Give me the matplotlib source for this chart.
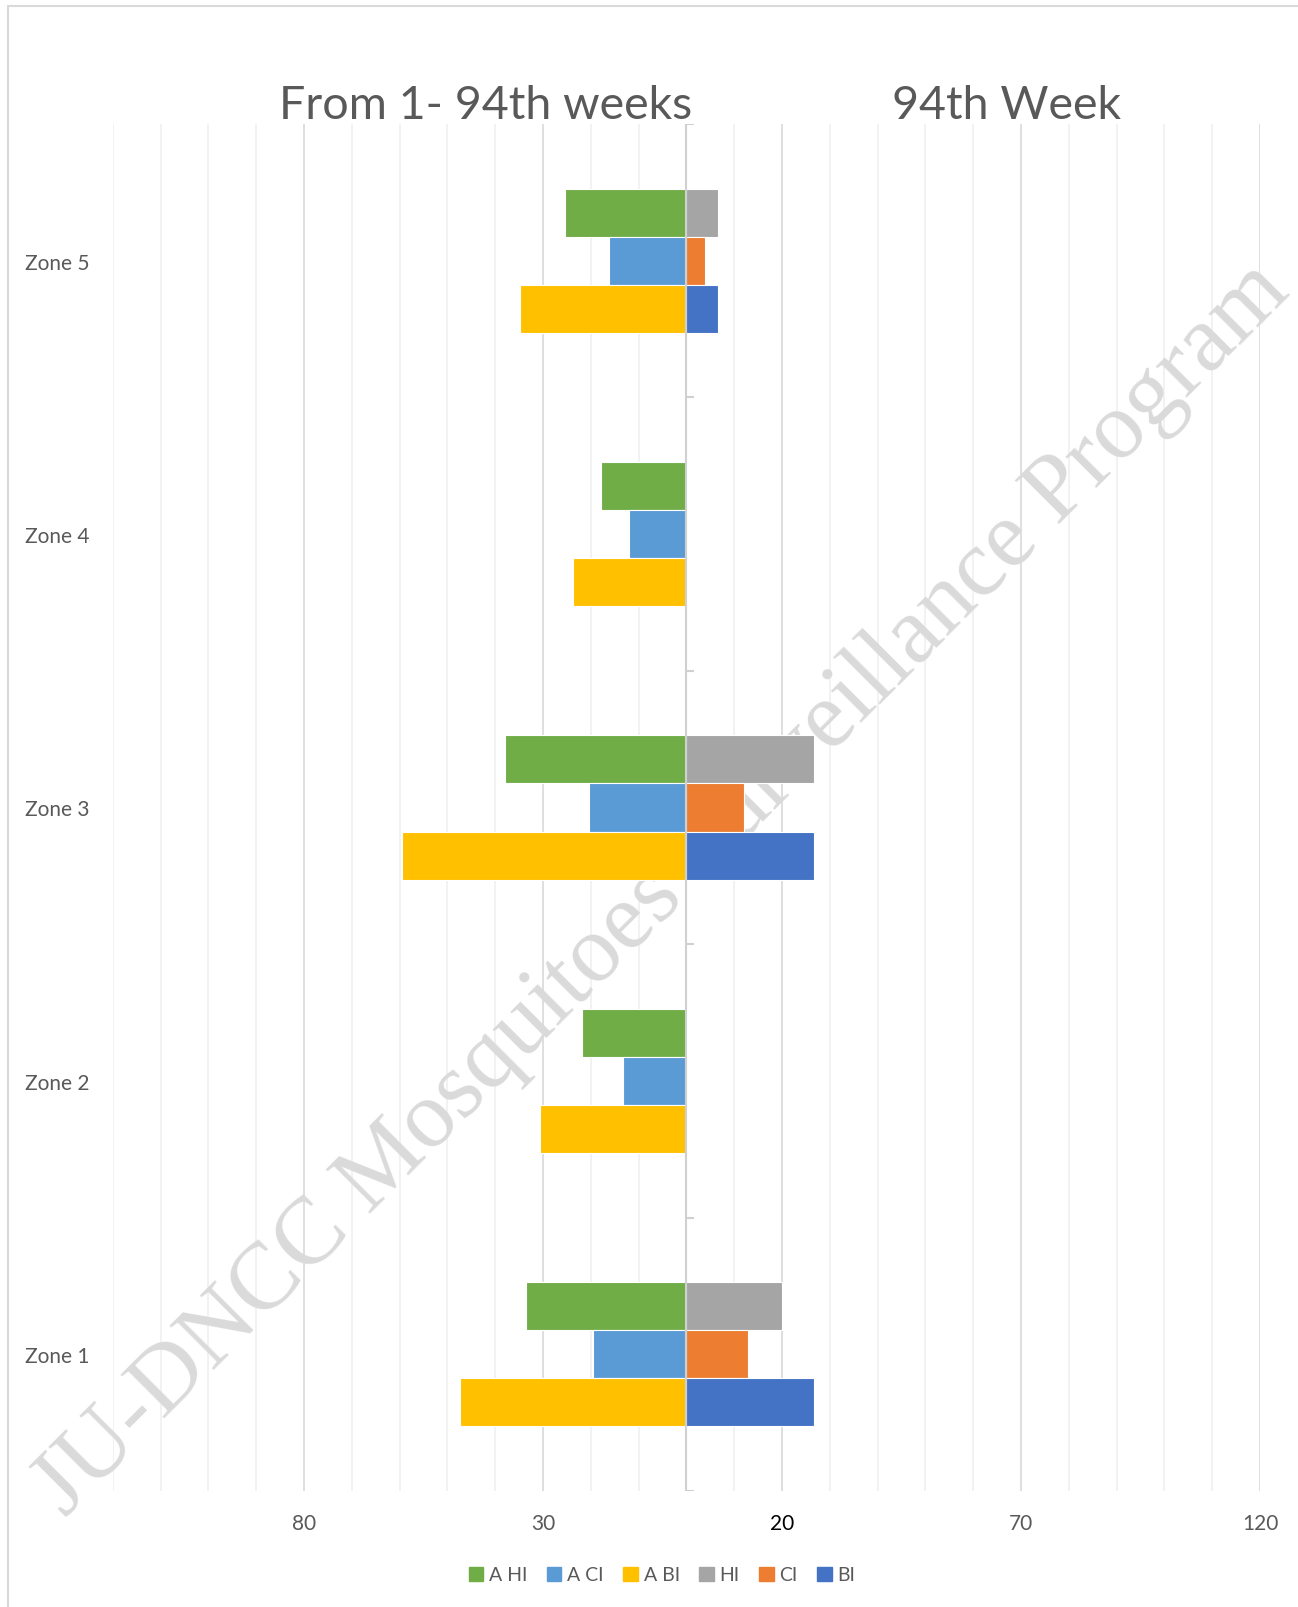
import numpy as np
import matplotlib.pyplot as plt
from matplotlib.patches import Patch, Rectangle
from matplotlib.ticker import FuncFormatter, MultipleLocator

plt.rcParams['font.family'] = ['Lato', 'DejaVu Sans']

# Data (left side = 1-94th weeks average, right side = 94th week)
zones = ['Zone 1', 'Zone 2', 'Zone 3', 'Zone 4', 'Zone 5']
a_hi = [33.5, 21.9, 38.0, 17.8, 25.3]
a_ci = [19.5, 13.3, 20.4, 12.0, 16.1]
a_bi = [47.4, 30.7, 59.4, 23.8, 34.8]
hi = [20.0, 0, 26.6, 0, 6.7]
ci = [12.9, 0, 12.0, 0, 3.9]
bi = [26.6, 0, 26.6, 0, 6.7]

col_ahi, col_aci, col_abi = '#70AD47', '#5B9BD5', '#FFC000'
col_hi, col_ci, col_bi = '#A5A5A5', '#ED7D31', '#4472C4'
text_col = '#595959'

W, H = 1298, 1608
fig = plt.figure(figsize=(W / 100, H / 100), dpi=100)
ax = fig.add_axes([112.8 / W, 116 / H, (1260 - 112.8) / W, (1492 - 125) / H])

y = np.arange(len(zones))
h = 0.176

# Left (negative) bars
ax.barh(y + h, -np.array(a_hi), height=h, color=col_ahi, edgecolor='white', linewidth=0.8, zorder=3)
ax.barh(y, -np.array(a_ci), height=h, color=col_aci, edgecolor='white', linewidth=0.8, zorder=3)
ax.barh(y - h, -np.array(a_bi), height=h, color=col_abi, edgecolor='white', linewidth=0.8, zorder=3)
# Right bars
ax.barh(y + h, hi, height=h, color=col_hi, edgecolor='white', linewidth=0.8, zorder=3)
ax.barh(y, ci, height=h, color=col_ci, edgecolor='white', linewidth=0.8, zorder=3)
ax.barh(y - h, bi, height=h, color=col_bi, edgecolor='white', linewidth=0.8, zorder=3)

ax.set_xlim(-120, 120)
ax.set_ylim(-0.5, 4.5)

# grid
ax.xaxis.set_major_locator(MultipleLocator(50, offset=20))
ax.xaxis.set_minor_locator(MultipleLocator(10))
ax.xaxis.set_major_formatter(FuncFormatter(lambda v, p: f'{abs(v):.0f}'))
ax.grid(which='minor', axis='x', color='#f0f0f0', linewidth=1.2, zorder=0)
ax.grid(which='major', axis='x', color='#d9d9d9', linewidth=1.2, zorder=0)
ax.set_axisbelow(True)
ax.tick_params(axis='x', which='both', length=0, pad=16, labelsize=15, labelcolor=text_col)
for lbl in ax.get_xticklabels():
    if lbl.get_text() == '20':
        lbl.set_color('black')

# center axis with small ticks at category boundaries
ax.axvline(0, color='#d0d0d0', linewidth=1.5, zorder=4)
bounds = np.arange(-0.5, len(zones), 1.0)
ax.hlines(bounds, 0, 1.5, color='#d0d0d0', linewidth=1.5, zorder=4)

ax.set_yticks(y)
ax.set_yticklabels(zones)
ax.tick_params(axis='y', length=0, pad=63, labelsize=15, labelcolor=text_col)
for lbl in ax.get_yticklabels():
    lbl.set_horizontalalignment('left')

for s in ax.spines.values():
    s.set_visible(False)

# headers
fig.text(486 / W, 1 - 106 / H, 'From 1- 94th weeks', ha='center', va='center',
         fontsize=33.5, color=text_col)
fig.text(1006 / W, 1 - 106 / H, '94th Week', ha='center', va='center',
         fontsize=33.5, color=text_col)

# watermark
ax.text(662 / W, 1 - 890 / H, 'JU-DNCC Mosquitoes Surveillance Program',
        transform=fig.transFigure, rotation=45, ha='center', va='center',
        fontsize=69, family='Liberation Serif', color='#dadada', zorder=2,
        clip_on=False)

# legend
handles = [Patch(color=c) for c in [col_ahi, col_aci, col_abi, col_hi, col_ci, col_bi]]
labels = ['A HI', 'A CI', 'A BI', 'HI', 'CI', 'BI']
fig.legend(handles, labels, loc='center', bbox_to_anchor=(662 / W, 1 - 1576 / H), ncol=6,
           frameon=False, fontsize=14, labelcolor=text_col, handlelength=0.75,
           handleheight=0.75, handletextpad=0.3, columnspacing=1.0)

# chart border
fig.patches.append(Rectangle((8 / W, -0.01), 1.02, 1.01 - 7 / H, transform=fig.transFigure,
                             fill=False, edgecolor='#d9d9d9', linewidth=1.5))

fig.savefig('out.png', dpi=100)
